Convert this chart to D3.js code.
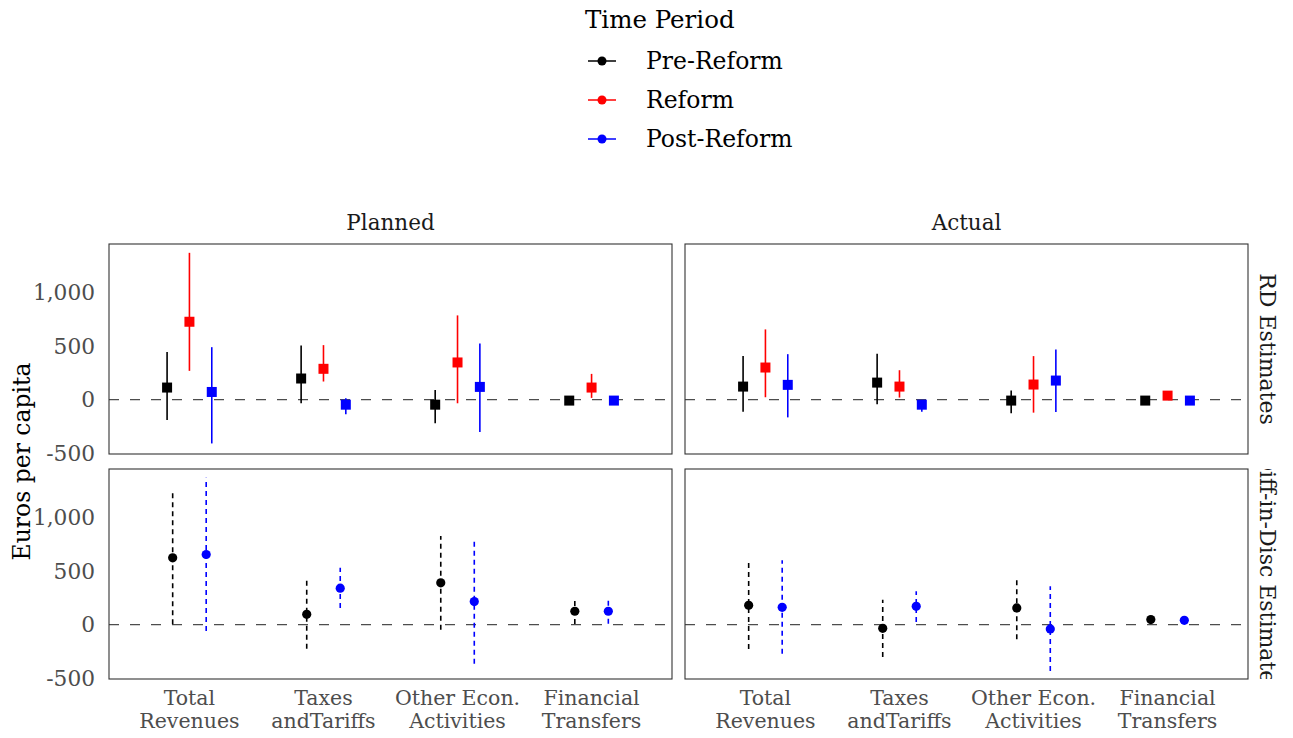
<!DOCTYPE html>
<html lang="en">
<head>
<meta charset="UTF-8">
<title>Planned vs Actual estimates</title>
<script src="https://d3js.org/d3.v7.min.js"></script>
<style>
  body { margin: 0; background: #fff; font-family: "DejaVu Serif", serif; }
  svg text { font-family: "DejaVu Serif", serif; }
</style>
</head>
<body>
<svg id="chart" width="1293" height="738"></svg>
<script>
// categories and their two-line labels
const categories = ["Total Revenues", "Taxes and Tariffs", "Other Econ. Activities", "Financial Transfers"];
const catLabels = [["Total", "Revenues"], ["Taxes", "andTariffs"], ["Other Econ.", "Activities"], ["Financial", "Transfers"]];
const periods = ["Pre-Reform", "Reform", "Post-Reform"];
const periodColors = ["#000000", "#FF0000", "#0000FF"];
const columns = ["Planned", "Actual"];
const rows = ["RD Estimates", "Diff-in-Disc Estimates"];
const yTicks = [-500, 0, 500, 1000];

// [estimate, lower, upper] per category
const rdPlannedPre    = [[112, -189, 441], [196, -34, 503], [-47, -220, 90], [-9, -28, 10]];
const rdPlannedReform = [[723, 267, 1363], [286, 168, 506], [345, -34, 782], [112, 16, 239]];
const rdPlannedPost   = [[71, -407, 487], [-47, -137, 12], [118, -301, 521], [-9, -25, 8]];

const rdActualPre     = [[121, -112, 404], [158, -43, 425], [-9, -127, 84], [-9, -25, 8]];
const rdActualReform  = [[298, 22, 652], [121, 19, 273], [140, -121, 404], [37, 20, 55]];
const rdActualPost    = [[137, -165, 422], [-47, -112, -3], [177, -115, 466], [-9, -25, 8]];

const didPlannedPre   = [[620, 3, 1256], [96, -223, 412], [388, -47, 822], [124, 5, 242]];
const didPlannedPost  = [[651, -59, 1364], [338, 155, 527], [214, -363, 790], [124, 9, 242]];

const didActualPre    = [[180, -226, 592], [-34, -301, 232], [155, -136, 434], [47, 30, 64]];
const didActualPost   = [[161, -270, 598], [170, 25, 310], [-40, -431, 356], [40, 24, 58]];

const yDomain = [-505, 1445];

// panels: row, column, series (period index + values)
const panels = [
  { row: 0, col: 0, series: [[0, rdPlannedPre], [1, rdPlannedReform], [2, rdPlannedPost]] },
  { row: 0, col: 1, series: [[0, rdActualPre], [1, rdActualReform], [2, rdActualPost]] },
  { row: 1, col: 0, series: [[0, didPlannedPre], [2, didPlannedPost]] },
  { row: 1, col: 1, series: [[0, didActualPre], [2, didActualPost]] }
];

const svg = d3.select("#chart");

const colX = [109, 685];
const panelW = 563;
const rowY = [244, 469];
const panelH = 210;

const fmt = v => d3.format(",")(v).replace("\u2212", "-");

// legend
const legend = svg.append("g").attr("transform", "translate(585,0)");
legend.append("text").attr("x", 0).attr("y", 28).attr("font-size", 24.5).attr("fill", "#000").text("Time Period");
periods.forEach((p, i) => {
  const g = legend.append("g").attr("transform", `translate(0,${61 + i * 39})`);
  g.append("line").attr("x1", 3).attr("x2", 31).attr("y1", 0).attr("y2", 0)
    .attr("stroke", periodColors[i]).attr("stroke-width", 1.5);
  g.append("circle").attr("cx", 17).attr("cy", 0).attr("r", 4.5).attr("fill", periodColors[i]);
  g.append("text").attr("x", 61).attr("y", 0).attr("dy", "0.36em").attr("font-size", 23.5).attr("fill", "#000").text(p);
});

// column strips
columns.forEach((c, i) => {
  svg.append("text").attr("x", colX[i] + panelW / 2).attr("y", 222).attr("dy", "0.36em")
    .attr("text-anchor", "middle").attr("font-size", 21.5).attr("fill", "#1A1A1A").text(c);
});

// row strips (rotated, clipped to panel height)
const defs = svg.append("defs");
rows.forEach((r, i) => {
  defs.append("clipPath").attr("id", "strip" + i)
    .append("rect").attr("x", 1250).attr("y", rowY[i]).attr("width", 43).attr("height", panelH);
  svg.append("g").attr("clip-path", `url(#strip${i})`)
    .append("text")
    .attr("transform", `translate(1268,${rowY[i] + panelH / 2}) rotate(90)`)
    .attr("text-anchor", "middle").attr("dy", "0.36em")
    .attr("font-size", 22).attr("fill", "#1A1A1A").text(r);
});

// y axis title
svg.append("text").attr("transform", `translate(22,${(rowY[0] + rowY[1] + panelH) / 2}) rotate(-90)`)
  .attr("text-anchor", "middle").attr("dy", "0.36em").attr("font-size", 23.5).attr("fill", "#000")
  .text("Euros per capita");

panels.forEach(p => {
  const x0 = colX[p.col], y0 = rowY[p.row];
  const x = d3.scalePoint().domain(categories).range([x0, x0 + panelW]).padding(0.6);
  const y = d3.scaleLinear().domain(yDomain).range([y0 + panelH, y0]);
  const step = x.step();
  const n = p.series.length;
  const dodge = 0.5;
  const offset = k => (-dodge / 2 + dodge / n * (k + 0.5)) * step;
  const isRD = p.row === 0;

  const g = svg.append("g");

  // zero reference line
  g.append("line").attr("x1", x0).attr("x2", x0 + panelW).attr("y1", y(0)).attr("y2", y(0))
    .attr("stroke", "#4D4D4D").attr("stroke-width", 1.1).attr("stroke-dasharray", "10,11");

  p.series.forEach(([pi, vals], k) => {
    const col = periodColors[pi];
    const sg = g.append("g");
    sg.selectAll("line.ci").data(vals).join("line").attr("class", "ci")
      .attr("x1", (d, j) => x(categories[j]) + offset(k))
      .attr("x2", (d, j) => x(categories[j]) + offset(k))
      .attr("y1", d => y(d[1])).attr("y2", d => y(d[2]))
      .attr("stroke", col).attr("stroke-width", 1.6)
      .attr("stroke-dasharray", isRD ? null : "5,4");
    if (isRD) {
      sg.selectAll("rect").data(vals).join("rect")
        .attr("x", (d, j) => x(categories[j]) + offset(k) - 5)
        .attr("y", d => y(d[0]) - 5)
        .attr("width", 10).attr("height", 10).attr("fill", col);
    } else {
      sg.selectAll("circle").data(vals).join("circle")
        .attr("cx", (d, j) => x(categories[j]) + offset(k))
        .attr("cy", d => y(d[0])).attr("r", 4.6).attr("fill", col);
    }
  });

  // panel border
  g.append("rect").attr("x", x0).attr("y", y0).attr("width", panelW).attr("height", panelH)
    .attr("fill", "none").attr("stroke", "#333333").attr("stroke-width", 1.1);

  // y tick labels on left column
  if (p.col === 0) {
    g.selectAll("text.ytick").data(yTicks).join("text").attr("class", "ytick")
      .attr("x", x0 - 14).attr("y", d => y(d)).attr("dy", "0.36em")
      .attr("text-anchor", "end").attr("font-size", 21.7).attr("fill", "#4D4D4D")
      .text(fmt);
  }

  // x tick labels on bottom row
  if (p.row === 1) {
    const lab = g.selectAll("text.xtick").data(catLabels).join("text").attr("class", "xtick")
      .attr("text-anchor", "middle").attr("font-size", 20.5).attr("fill", "#4D4D4D");
    lab.each(function (lines, j) {
      const t = d3.select(this);
      lines.forEach((s, li) => {
        t.append("tspan").attr("x", x(categories[j])).attr("y", 705 + li * 23).text(s);
      });
    });
  }
});
</script>
</body>
</html>
